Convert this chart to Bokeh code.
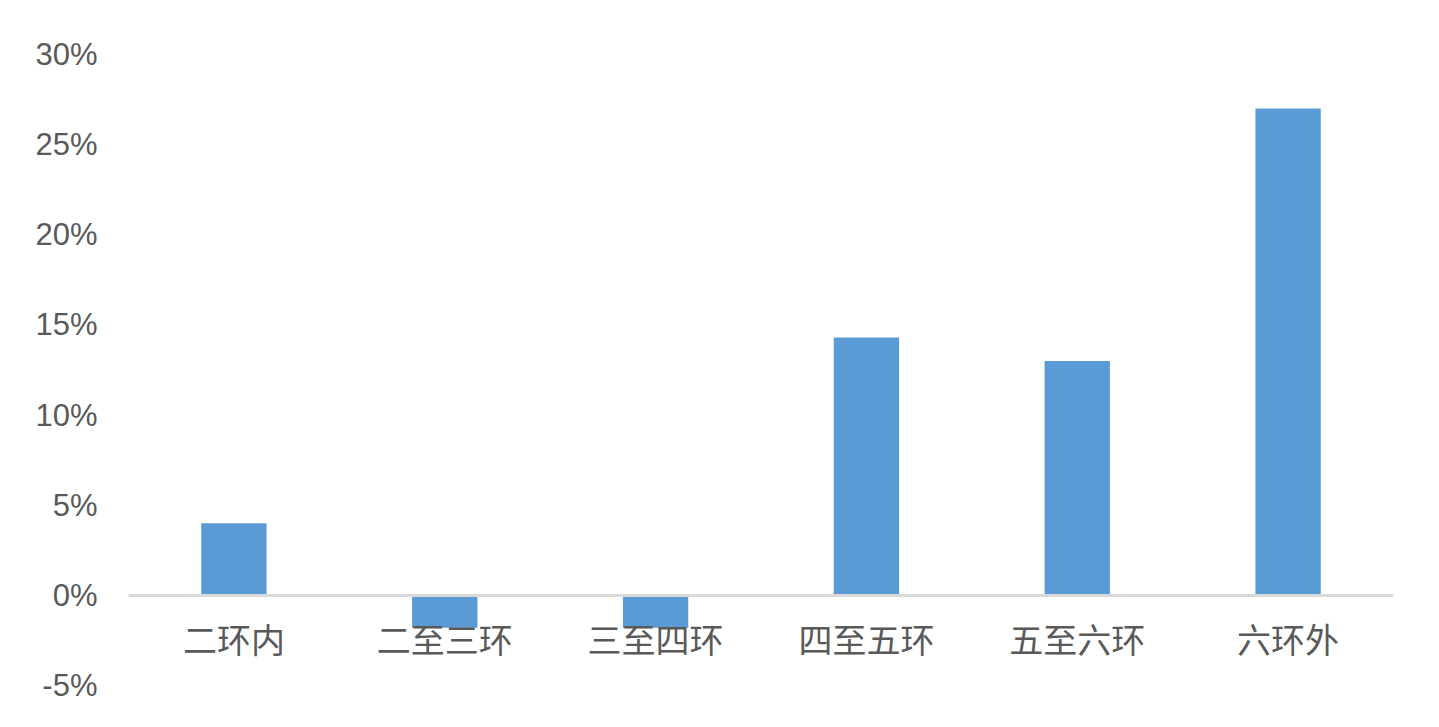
from bokeh.plotting import figure
from bokeh.models import Range1d, FixedTicker, CustomJSTickFormatter
from bokeh.embed import file_html
from bokeh.resources import INLINE

categories = ["二环内", "二至三环", "三至四环", "四至五环", "五至六环", "六环外"]
values = [4.0, -1.8, -1.8, 14.3, 13.0, 27.0]
y_ticks = [-5, 0, 5, 10, 15, 20, 25, 30]

p = figure(x_range=categories, y_range=Range1d(-5, 30), width=1423, height=711,
           output_backend="svg", toolbar_location=None,
           min_border_left=128, min_border_right=30, min_border_top=54, min_border_bottom=26)
p.vbar(x=categories, top=values, bottom=0, width=0.31, fill_color="#5b9bd5", line_color=None)

p.xgrid.grid_line_color = None
p.ygrid.grid_line_color = None
p.outline_line_color = None
p.background_fill_color = "white"

p.yaxis.ticker = FixedTicker(ticks=y_ticks)
p.yaxis.formatter = CustomJSTickFormatter(code="return tick + '%';")
p.yaxis.axis_line_color = None
p.yaxis.major_tick_line_color = None
p.yaxis.minor_tick_line_color = None
p.yaxis.major_tick_out = 0
p.yaxis.major_label_standoff = 31
p.yaxis.major_label_text_font = "Liberation Sans"
p.yaxis.major_label_text_font_size = "31px"
p.yaxis.major_label_text_color = "#595959"

p.xaxis.fixed_location = 0
p.xaxis.axis_line_color = "#d9d9d9"
p.xaxis.axis_line_width = 3
p.xaxis.major_tick_line_color = None
p.xaxis.minor_tick_line_color = None
p.xaxis.major_tick_out = 0
p.xaxis.major_label_standoff = 19
p.xaxis.major_label_text_font = "Noto Sans CJK SC"
p.xaxis.major_label_text_font_size = "34px"
p.xaxis.major_label_text_color = "#595959"

open("out.html", "w").write(file_html(p, INLINE))
